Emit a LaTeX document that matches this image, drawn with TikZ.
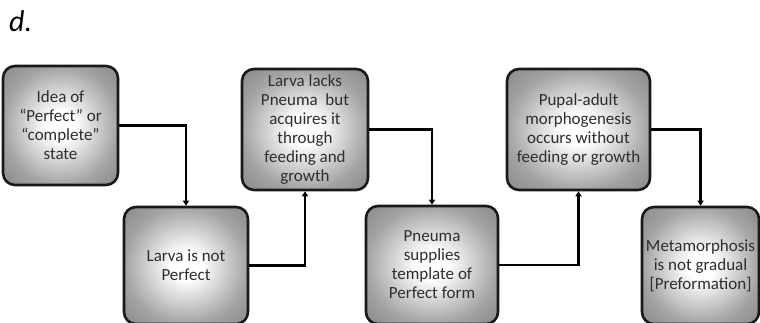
\documentclass[tikz,border=0pt]{standalone}
\usepackage{fontspec}
\setmainfont{Carlito}
\usetikzlibrary{arrows.meta}
\pgfdeclareradialshading{boxglow}{\pgfpoint{0bp}{0bp}}{color(0bp)=(white); color(6bp)=(white); color(25bp)=(black!36); color(35bp)=(black!46); color(50bp)=(black!50)}
\tikzset{
  stagebox/.style={draw=black!90, line width=2.6pt, rounded corners=12pt,
    shading=boxglow,
    align=center, text=black!82, font=\fontsize{17}{19}\selectfont},
  flow/.style={line width=2.3pt, -{Triangle[width=6pt,length=5pt]}}
}
\begin{document}
\begin{tikzpicture}[x=1pt, y=-1pt]
			\clip (0,0) rectangle (760,323);
			\fill[white] (0,0) rectangle (760,323);
			%Label
			\node[anchor=base west, inner sep=0pt, font=\fontsize{30}{30}\selectfont\itshape] (lbl) at (9,32) {d.};
			%Upper row
			\node[stagebox, minimum width=115pt, minimum height=119pt] (idea) at (60.5,125.5) {Idea of\\“Perfect” or\\“complete”\\state};
			\node[stagebox, minimum width=126pt, minimum height=121pt] (lacks) at (305,129.5) {Larva lacks\\Pneuma~ but\\acquires it\\through\\feeding and\\growth};
			\node[stagebox, minimum width=143pt, minimum height=121pt] (pupal) at (578.5,129.5) {Pupal-adult\\morphogenesis\\occurs without\\feeding or growth};
			%Lower row
			\node[stagebox, minimum width=124pt, minimum height=117pt] (notperf) at (186,265.5) {Larva is not\\Perfect};
			\node[stagebox, minimum width=132pt, minimum height=118pt] (template) at (432,265) {Pneuma\\supplies\\template of\\Perfect form};
			\node[stagebox, minimum width=117pt, minimum height=117pt] (gradual) at (700.5,265.5) {Metamorphosis\\is not gradual\\{[}Preformation{]}};
			%Connectors
			\draw[flow] (idea.east) -| (notperf.north);
			\draw[flow] (notperf.east) -| (lacks.south);
			\draw[flow] (lacks.east) -| (template.north);
			\draw[flow] (template.east) -| (pupal.south);
			\draw[flow] (pupal.east) -| (gradual.north);
\end{tikzpicture}
\end{document}
